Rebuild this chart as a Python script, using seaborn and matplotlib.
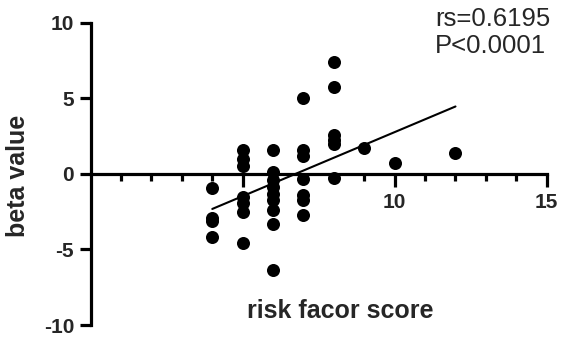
import numpy as np
import matplotlib
matplotlib.use("Agg")
import matplotlib.pyplot as plt
import seaborn as sns
from matplotlib.ticker import FixedLocator

# risk factor score (x) and beta value (y)
score = [4, 4, 4, 4,
         5, 5, 5, 5, 5, 5, 5,
         6, 6, 6, 6, 6, 6, 6, 6, 6,
         7, 7, 7, 7, 7, 7, 7,
         8, 8, 8, 8, 8, 8,
         9, 10, 12]
beta = [-0.95, -2.9, -3.15, -4.15,
        1.55, 1.0, 0.5, -1.5, -1.9, -2.5, -4.6,
        1.6, 0.15, -0.4, -0.85, -1.3, -1.7, -2.4, -3.35, -6.35,
        5.05, 1.55, 1.15, -0.35, -1.4, -1.75, -2.7,
        7.4, 5.75, 2.6, 2.25, 2.0, -0.25,
        1.7, 0.7, 1.35]
stats_lines = ["rs=0.6195", "P<0.0001"]

sns.set_style("ticks")
plt.rcParams["font.family"] = ["Liberation Sans", "DejaVu Sans"]

fig = plt.figure(figsize=(5.66, 3.41), dpi=100)
ax = fig.add_axes([0.1602, 0.0469, 0.8057, 0.8865])

sns.scatterplot(x=score, y=beta, ax=ax, color="black", s=88, linewidth=0, zorder=3)
sns.regplot(x=score, y=beta, ax=ax, scatter=False, ci=None, color="black",
            line_kws={"linewidth": 1.5})

ax.set_xlim(0, 15)
ax.set_ylim(-10, 10)

# axes cross at the origin
for side in ["top", "right"]:
    ax.spines[side].set_visible(False)
ax.spines["left"].set_position(("data", 0))
ax.spines["bottom"].set_position(("data", 0))
for side in ["left", "bottom"]:
    ax.spines[side].set_linewidth(2.3)
    ax.spines[side].set_color("black")

ax.set_xticks([5, 10, 15])
ax.set_xticklabels(["", "10", "15"])
ax.xaxis.set_minor_locator(FixedLocator([i for i in range(1, 15) if i % 5]))
ax.set_yticks([-10, -5, 0, 5, 10])
ax.set_yticklabels(["-10", "-5", "0", "5", "10"])

ax.tick_params(axis="x", which="major", length=9, width=2.3, pad=5,
               labelsize=15, color="black")
ax.tick_params(axis="x", which="minor", length=4.8, width=2.3, color="black")
ax.tick_params(axis="y", which="major", length=8, width=2.3, pad=4,
               labelsize=15, color="black")
for lab in ax.get_xticklabels() + ax.get_yticklabels():
    lab.set_fontweight("bold")

ax.set_xlabel("risk facor score", fontsize=18, fontweight="bold")
ax.xaxis.label.set_va("baseline")
ax.xaxis.set_label_coords(0.548, 0.022)
ax.set_ylabel("beta value", fontsize=18, fontweight="bold")
ax.yaxis.label.set_va("baseline")
ax.yaxis.set_label_coords(-0.144, 0.4945)

ax.text(0.755, 0.989, stats_lines[0], transform=ax.transAxes, fontsize=18.5,
        ha="left", va="baseline")
ax.text(0.755, 0.899, stats_lines[1], transform=ax.transAxes, fontsize=18.5,
        ha="left", va="baseline")

fig.savefig("out.png", dpi=100)
plt.close(fig)
